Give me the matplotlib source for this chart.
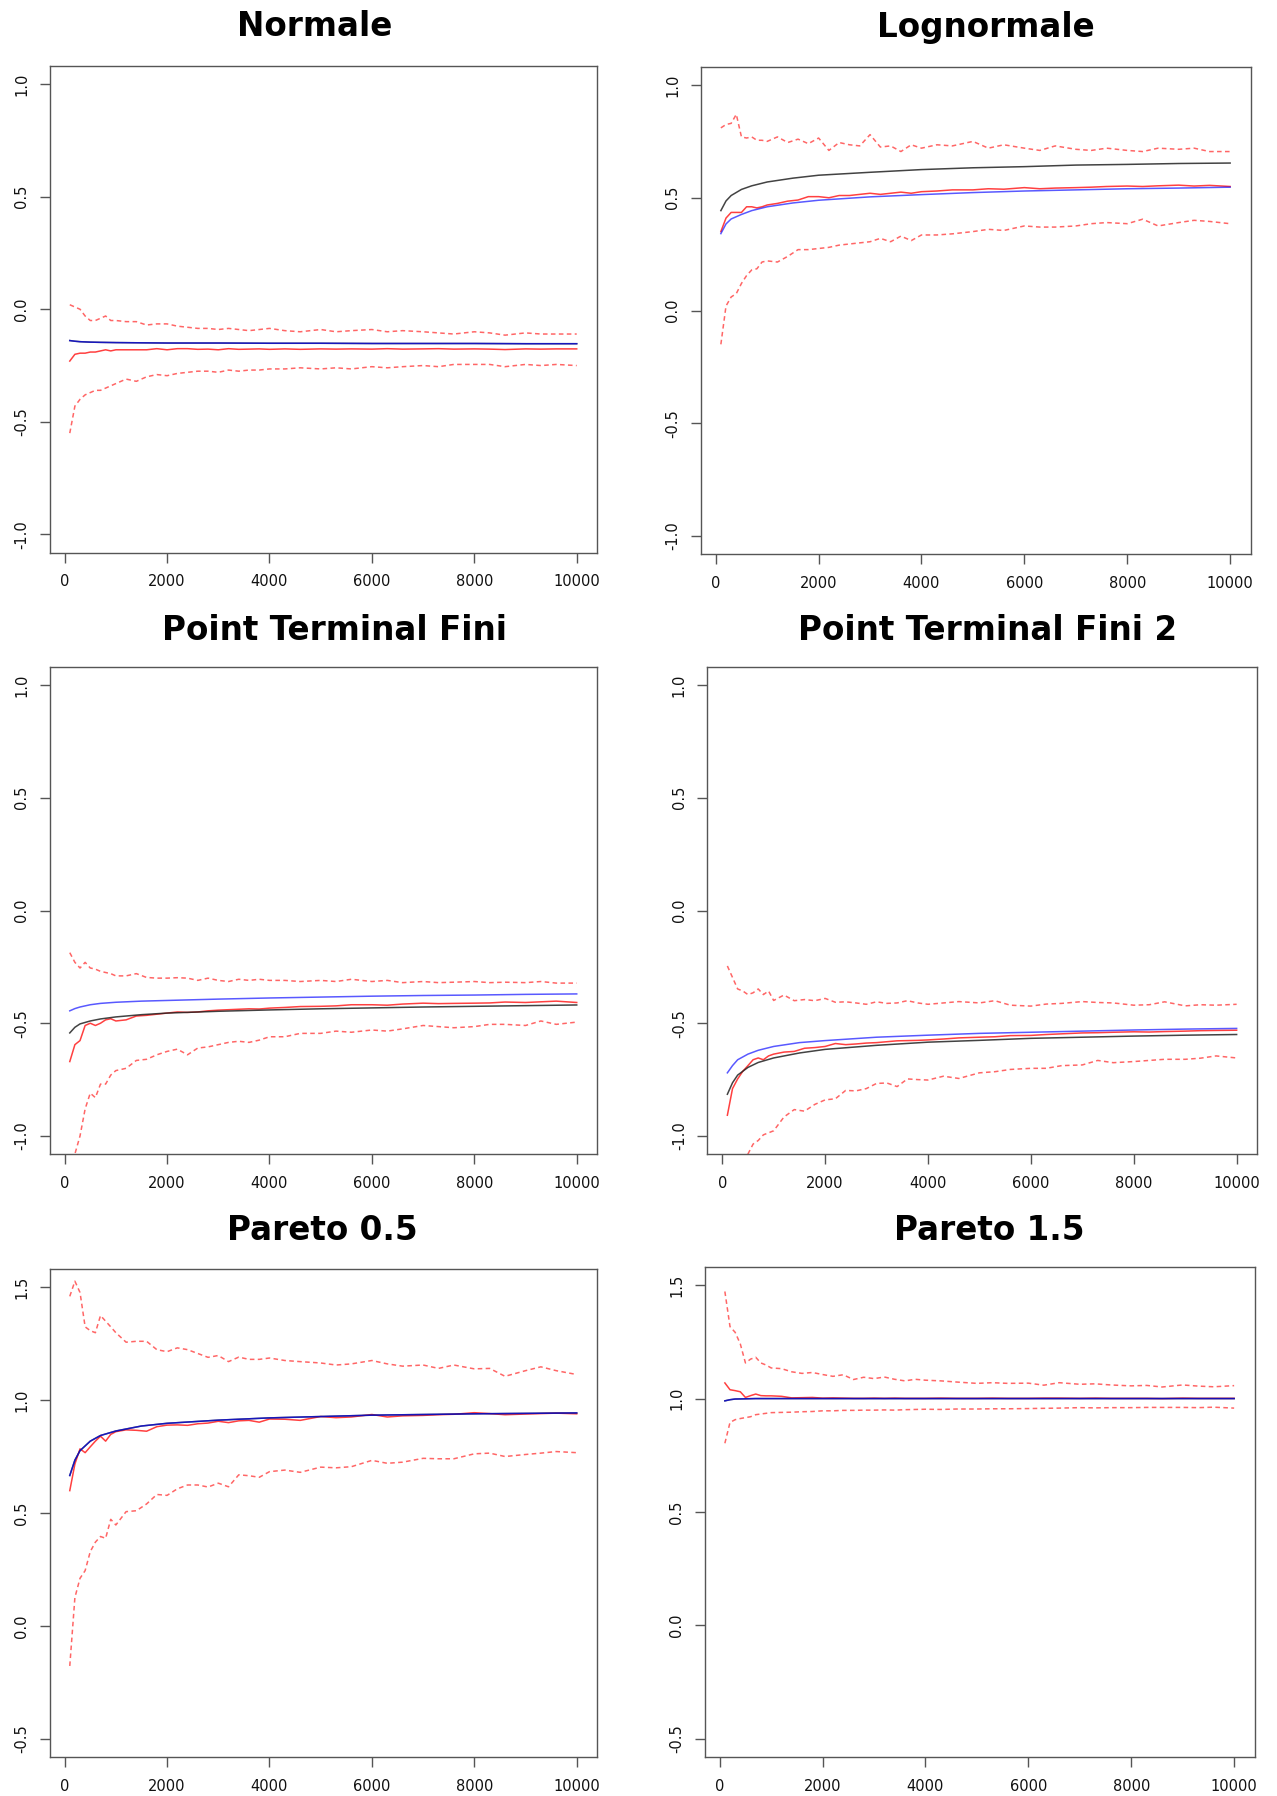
import matplotlib
matplotlib.use('Agg')
import matplotlib.pyplot as plt

W, H = 1277, 1796

# x grids
xn = [100, 200, 300, 400, 500, 600, 700, 800, 900, 1000,
      1200, 1400, 1600, 1800, 2000, 2200, 2400, 2600, 2800, 3000,
      3200, 3400, 3600, 3800, 4000, 4300, 4600, 5000, 5300, 5600,
      6000, 6300, 6600, 7000, 7300, 7600, 8000, 8300, 8600, 9000,
      9300, 9600, 10000]
xs = [100, 200, 300, 500, 700, 1000, 1500, 2000, 3000, 4000,
      5000, 6000, 7000, 8000, 9000, 10000]

# Normale
norm_up = [0.02, 0.01, 0.0, -0.03, -0.05, -0.05, -0.04, -0.03, -0.05, -0.05,
           -0.055, -0.055, -0.07, -0.065, -0.065, -0.075, -0.08, -0.085, -0.085, -0.09,
           -0.085, -0.09, -0.095, -0.09, -0.085, -0.095, -0.1, -0.09, -0.1, -0.095,
           -0.09, -0.1, -0.095, -0.1, -0.105, -0.11, -0.1, -0.105, -0.115, -0.105,
           -0.11, -0.11, -0.11]
norm_lo = [-0.55, -0.43, -0.40, -0.38, -0.37, -0.36, -0.36, -0.35, -0.34, -0.33,
           -0.31, -0.32, -0.30, -0.29, -0.295, -0.285, -0.28, -0.275, -0.275, -0.28,
           -0.27, -0.275, -0.27, -0.27, -0.265, -0.265, -0.26, -0.265, -0.26, -0.265,
           -0.255, -0.26, -0.255, -0.25, -0.255, -0.245, -0.245, -0.245, -0.255, -0.245,
           -0.25, -0.245, -0.25]
norm_red = [-0.23, -0.20, -0.195, -0.195, -0.19, -0.19, -0.185, -0.18, -0.185, -0.18,
            -0.18, -0.18, -0.18, -0.175, -0.18, -0.175, -0.175, -0.178, -0.177, -0.18,
            -0.175, -0.178, -0.177, -0.176, -0.178, -0.176, -0.178, -0.176, -0.177, -0.176,
            -0.177, -0.175, -0.177, -0.176, -0.175, -0.177, -0.176, -0.177, -0.179, -0.176,
            -0.177, -0.176, -0.176]
norm_blk = [-0.139, -0.142, -0.144, -0.146, -0.147, -0.148, -0.149, -0.15, -0.15, -0.151,
            -0.151, -0.152, -0.152, -0.152, -0.153, -0.153]
norm_blu = norm_blk

# Lognormale
logn_up = [0.81, 0.825, 0.83, 0.87, 0.77, 0.765, 0.77, 0.755, 0.755, 0.75,
           0.77, 0.745, 0.76, 0.74, 0.765, 0.71, 0.745, 0.735, 0.73, 0.78,
           0.725, 0.73, 0.705, 0.735, 0.72, 0.735, 0.73, 0.75, 0.72, 0.735,
           0.72, 0.71, 0.73, 0.715, 0.71, 0.72, 0.71, 0.705, 0.72, 0.715,
           0.72, 0.705, 0.705]
logn_lo = [-0.15, 0.02, 0.06, 0.075, 0.12, 0.155, 0.18, 0.185, 0.215, 0.22,
           0.215, 0.24, 0.27, 0.27, 0.275, 0.28, 0.29, 0.295, 0.3, 0.305,
           0.32, 0.305, 0.33, 0.31, 0.335, 0.335, 0.34, 0.35, 0.36, 0.355,
           0.375, 0.37, 0.37, 0.375, 0.385, 0.39, 0.385, 0.405, 0.375, 0.39,
           0.4, 0.395, 0.385]
logn_red = [0.35, 0.41, 0.435, 0.435, 0.435, 0.46, 0.46, 0.455, 0.46, 0.468,
            0.475, 0.485, 0.49, 0.505, 0.505, 0.5, 0.51, 0.51, 0.515, 0.52,
            0.515, 0.52, 0.525, 0.52, 0.527, 0.53, 0.535, 0.535, 0.54, 0.538,
            0.545, 0.54, 0.543, 0.545, 0.547, 0.55, 0.552, 0.55, 0.553, 0.556,
            0.552, 0.555, 0.55]
logn_blk = [0.443, 0.486, 0.51, 0.537, 0.553, 0.57, 0.587, 0.6, 0.613, 0.625,
            0.633, 0.638, 0.645, 0.648, 0.652, 0.654]
logn_blu = [0.341, 0.384, 0.406, 0.426, 0.443, 0.46, 0.477, 0.489, 0.504, 0.514,
            0.523, 0.53, 0.535, 0.54, 0.543, 0.547]

# Point Terminal Fini
ptf_up = [-0.187, -0.23, -0.255, -0.23, -0.255, -0.26, -0.27, -0.275, -0.28, -0.29,
          -0.29, -0.28, -0.297, -0.3, -0.3, -0.298, -0.3, -0.31, -0.3, -0.31,
          -0.315, -0.305, -0.31, -0.305, -0.31, -0.31, -0.315, -0.31, -0.315, -0.305,
          -0.315, -0.31, -0.32, -0.315, -0.32, -0.318, -0.315, -0.32, -0.318, -0.32,
          -0.315, -0.322, -0.322]
ptf_lo = [-1.25, -1.08, -1.0, -0.88, -0.81, -0.83, -0.77, -0.77, -0.73, -0.71,
          -0.70, -0.665, -0.66, -0.64, -0.625, -0.615, -0.64, -0.61, -0.605, -0.595,
          -0.585, -0.58, -0.585, -0.575, -0.56, -0.56, -0.545, -0.545, -0.535, -0.54,
          -0.53, -0.535, -0.525, -0.51, -0.515, -0.52, -0.515, -0.505, -0.505, -0.51,
          -0.49, -0.505, -0.495]
ptf_red = [-0.67, -0.595, -0.577, -0.51, -0.5, -0.51, -0.5, -0.485, -0.48, -0.49,
           -0.485, -0.468, -0.465, -0.46, -0.455, -0.45, -0.452, -0.45, -0.445, -0.442,
           -0.44, -0.438, -0.436, -0.437, -0.433, -0.43, -0.426, -0.425, -0.423, -0.418,
           -0.418, -0.42, -0.415, -0.411, -0.413, -0.412, -0.411, -0.41, -0.406, -0.408,
           -0.405, -0.402, -0.408]
ptf_blk = [-0.543, -0.518, -0.503, -0.49, -0.481, -0.472, -0.462, -0.455, -0.447, -0.441,
           -0.436, -0.432, -0.428, -0.425, -0.422, -0.419]
ptf_blu = [-0.445, -0.435, -0.428, -0.418, -0.412, -0.407, -0.402, -0.399, -0.393, -0.388,
           -0.384, -0.38, -0.377, -0.375, -0.372, -0.37]

# Point Terminal Fini 2
ptf2_up = [-0.246, -0.297, -0.348, -0.357, -0.373, -0.365, -0.348, -0.373, -0.357, -0.399,
           -0.375, -0.4, -0.395, -0.4, -0.39, -0.407, -0.405, -0.41, -0.416, -0.405,
           -0.412, -0.41, -0.4, -0.41, -0.416, -0.41, -0.404, -0.41, -0.4, -0.42,
           -0.424, -0.415, -0.412, -0.404, -0.408, -0.41, -0.42, -0.418, -0.405, -0.423,
           -0.418, -0.42, -0.416]
ptf2_lo = [-1.6, -1.4, -1.25, -1.15, -1.08, -1.036, -1.02, -0.995, -0.986, -0.977,
           -0.916, -0.883, -0.89, -0.86, -0.84, -0.835, -0.798, -0.8, -0.79, -0.767,
           -0.765, -0.781, -0.747, -0.75, -0.752, -0.735, -0.745, -0.72, -0.715, -0.705,
           -0.7, -0.7, -0.688, -0.685, -0.665, -0.675, -0.67, -0.665, -0.66, -0.66,
           -0.655, -0.645, -0.654]
ptf2_red = [-0.908, -0.79, -0.747, -0.713, -0.688, -0.662, -0.654, -0.662, -0.645, -0.637,
            -0.628, -0.625, -0.611, -0.608, -0.603, -0.59, -0.595, -0.592, -0.588, -0.586,
            -0.582, -0.578, -0.577, -0.576, -0.574, -0.57, -0.565, -0.562, -0.56, -0.555,
            -0.554, -0.55, -0.547, -0.543, -0.542, -0.54, -0.538, -0.539, -0.537, -0.535,
            -0.533, -0.532, -0.531]
ptf2_blk = [-0.815, -0.764, -0.73, -0.696, -0.674, -0.654, -0.632, -0.616, -0.598, -0.584,
            -0.576, -0.567, -0.562, -0.557, -0.553, -0.55]
ptf2_blu = [-0.72, -0.688, -0.662, -0.637, -0.62, -0.603, -0.586, -0.577, -0.562, -0.553,
            -0.545, -0.54, -0.535, -0.53, -0.526, -0.523]

# Pareto 0.5
par05_up = [1.459, 1.526, 1.476, 1.324, 1.307, 1.298, 1.374, 1.349, 1.324, 1.298,
            1.256, 1.26, 1.26, 1.223, 1.214, 1.231, 1.223, 1.206, 1.189, 1.197,
            1.17, 1.19, 1.18, 1.18, 1.186, 1.175, 1.17, 1.164, 1.155, 1.16,
            1.175, 1.16, 1.15, 1.155, 1.14, 1.155, 1.138, 1.14, 1.105, 1.13,
            1.147, 1.13, 1.113]
par05_lo = [-0.177, 0.126, 0.211, 0.245, 0.329, 0.371, 0.396, 0.388, 0.472, 0.447,
            0.506, 0.51, 0.54, 0.582, 0.578, 0.607, 0.624, 0.624, 0.615, 0.632,
            0.616, 0.669, 0.665, 0.658, 0.683, 0.69, 0.68, 0.703, 0.7, 0.705,
            0.733, 0.72, 0.725, 0.742, 0.74, 0.74, 0.762, 0.765, 0.75, 0.759,
            0.765, 0.772, 0.767]
par05_red = [0.599, 0.717, 0.784, 0.767, 0.793, 0.818, 0.84, 0.818, 0.848, 0.86,
             0.868, 0.866, 0.862, 0.882, 0.889, 0.89, 0.888, 0.895, 0.898, 0.906,
             0.9, 0.908, 0.91, 0.902, 0.916, 0.915, 0.91, 0.927, 0.922, 0.925,
             0.936, 0.925, 0.93, 0.932, 0.935, 0.937, 0.944, 0.94, 0.935, 0.938,
             0.94, 0.942, 0.939]
par05_blk = [0.666, 0.734, 0.776, 0.818, 0.843, 0.863, 0.885, 0.897, 0.911, 0.921,
             0.927, 0.933, 0.936, 0.939, 0.941, 0.943]
par05_blu = par05_blk

# Pareto 1.5
par15_up = [1.472, 1.317, 1.292, 1.241, 1.157, 1.174, 1.182, 1.157, 1.148, 1.135,
            1.132, 1.118, 1.111, 1.115, 1.106, 1.098, 1.105, 1.084, 1.094, 1.088,
            1.095, 1.085, 1.078, 1.085, 1.081, 1.078, 1.073, 1.067, 1.07, 1.067,
            1.068, 1.059, 1.07, 1.063, 1.065, 1.06, 1.056, 1.058, 1.051, 1.06,
            1.055, 1.052, 1.057]
par15_lo = [0.803, 0.895, 0.907, 0.912, 0.916, 0.92, 0.929, 0.932, 0.935, 0.938,
            0.939, 0.94, 0.942, 0.943, 0.946, 0.946, 0.948, 0.948, 0.949, 0.949,
            0.95, 0.949, 0.951, 0.952, 0.953, 0.952, 0.954, 0.954, 0.955, 0.955,
            0.956, 0.957, 0.958, 0.96, 0.959, 0.96, 0.96, 0.961, 0.961, 0.961,
            0.96, 0.962, 0.958]
par15_red = [1.069, 1.039, 1.035, 1.03, 1.005, 1.013, 1.02, 1.013, 1.012, 1.012,
             1.01, 1.003, 1.004, 1.005, 1.002, 1.003, 1.002, 1.001, 1.001, 1.002,
             1.001, 1.002, 1.001, 1.001, 1.001, 1.002, 1.001, 1.001, 1.002, 1.001,
             1.001, 1.002, 1.002, 1.001, 1.002, 1.001, 1.001, 1.001, 1.0, 1.002,
             1.001, 1.001, 1.001]
par15_blk = [0.99, 0.995, 0.998, 0.999, 1.0, 1.0, 1.0, 1.0, 1.0, 1.0,
             1.0, 1.0, 1.0, 1.0, 1.0, 1.0]
par15_blu = par15_blk

titles = ['Normale', 'Lognormale', 'Point Terminal Fini', 'Point Terminal Fini 2',
          'Pareto 0.5', 'Pareto 1.5']

panels = [
    (norm_up, norm_lo, norm_red, norm_blk, norm_blu, (-1.0, 1.0)),
    (logn_up, logn_lo, logn_red, logn_blk, logn_blu, (-1.0, 1.0)),
    (ptf_up, ptf_lo, ptf_red, ptf_blk, ptf_blu, (-1.0, 1.0)),
    (ptf2_up, ptf2_lo, ptf2_red, ptf2_blk, ptf2_blu, (-1.0, 1.0)),
    (par05_up, par05_lo, par05_red, par05_blk, par05_blu, (-0.5, 1.5)),
    (par15_up, par15_lo, par15_red, par15_blk, par15_blu, (-0.5, 1.5)),
]

# box pixel positions (left, right, top, bottom) and title anchor (x, baseline)
boxes = [(49.5, 597, 66, 552.5), (700.5, 1250.5, 67, 554),
         (49.5, 597, 667, 1154), (707, 1257, 667, 1154),
         (49.5, 597, 1269, 1757), (704.5, 1254.5, 1267, 1757)]
title_pos = [(315, 36.5), (986, 36.5), (334, 640), (988, 640), (322, 1240), (989, 1240)]

plt.rcParams['font.family'] = ['DejaVu Sans']

fig = plt.figure(figsize=(W / 100, H / 100), dpi=100)
fig.patch.set_facecolor('white')

gray = '#555555'
for i, (up, lo, red, blk, blu, yr) in enumerate(panels):
    l, r, t, b = boxes[i]
    ax = fig.add_axes([l / W, 1 - b / H, (r - l) / W, (b - t) / H])
    ax.plot(xn, up, color='red', alpha=0.6, lw=1.1, dashes=(3, 2.2))
    ax.plot(xn, lo, color='red', alpha=0.6, lw=1.1, dashes=(3, 2.2))
    ax.plot(xn, red, color='red', alpha=0.75, lw=1.1)
    ax.plot(xs, blk, color='#222222', alpha=0.85, lw=1.1)
    ax.plot(xs, blu, color='blue', alpha=0.65, lw=1.1)

    ext = (10000 - 100) * 0.04
    ax.set_xlim(100 - ext, 10000 + ext)
    ye = (yr[1] - yr[0]) * 0.04
    ax.set_ylim(yr[0] - ye, yr[1] + ye)

    ax.set_xticks([0, 2000, 4000, 6000, 8000, 10000])
    yt = [yr[0] + 0.5 * k for k in range(5)]
    ax.set_yticks(yt)
    ax.set_yticklabels(['%.1f' % v for v in yt], rotation=90, va='center')
    ax.tick_params(axis='both', direction='out', length=7.2, width=1.0,
                   color=gray, labelsize=10.5, labelcolor='#111111')
    ax.tick_params(axis='x', pad=8.5)
    ax.tick_params(axis='y', pad=7.3)
    for s in ax.spines.values():
        s.set_color(gray)
        s.set_linewidth(1.0)

    tx, ty = title_pos[i]
    fig.text(tx / W, 1 - ty / H, titles[i], ha='center', va='baseline',
             fontsize=23.5, fontweight='bold')

fig.savefig('out.png', dpi=100)
